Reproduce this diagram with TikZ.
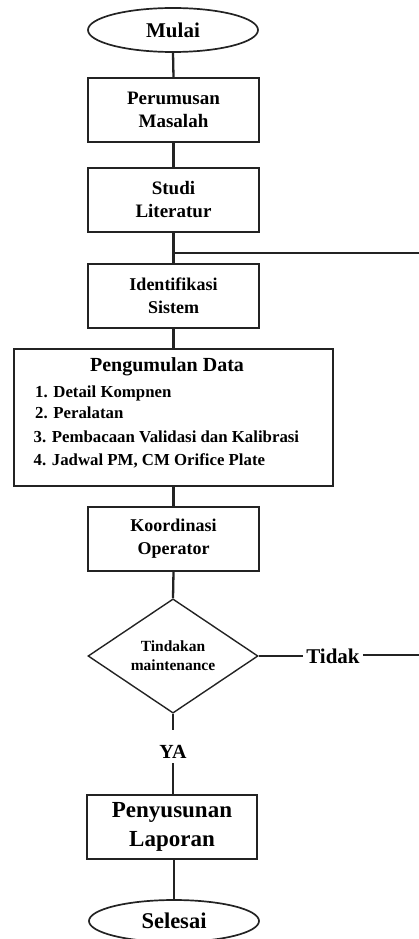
\documentclass[tikz,border=0pt]{standalone}
\usepackage{fontspec}
\setmainfont{Liberation Serif}
\usetikzlibrary{shapes.geometric}
\definecolor{ink}{RGB}{35,35,35}
\tikzset{
  box/.style={draw=ink, line width=1.4pt, rectangle, minimum width=171pt, minimum height=64pt, inner sep=0pt, align=center, font=\bfseries\fontsize{19}{23}\selectfont},
  term/.style={draw=ink, line width=1.7pt, ellipse, minimum width=170pt, minimum height=44pt, inner sep=0pt, font=\bfseries\fontsize{21}{25}\selectfont},
  conn/.style={draw=ink, line width=2.3pt},
  lbl/.style={inner sep=0pt, font=\bfseries\fontsize{21}{25}\selectfont},
  item/.style={anchor=base west, inner sep=0pt, font=\bfseries\fontsize{16.8}{20}\selectfont}
}
\begin{document}
\begin{tikzpicture}[x=1pt,y=-1pt]
\useasboundingbox (0,0) rectangle (419,939);
\node[term] (mulai) at (173,30) {Mulai};
\node[box] (perumusan) at (173.5,110) {Perumusan\\Masalah};
\node[box] (studi) at (173.5,200) {Studi\\Literatur};
\coordinate (j) at (173,253);
\coordinate (rtop) at (419,253);
\node[box, font=\bfseries\fontsize{18}{23}\selectfont] (ident) at (173.5,296) {Identifikasi\\Sistem};
\node[draw=ink, line width=1.4pt, rectangle, minimum width=319pt, minimum height=137pt, inner sep=0pt] (data) at (173.5,417.5) {};
\node[anchor=base, inner sep=0pt, font=\bfseries\fontsize{20}{24}\selectfont] (dtitle) at (167,371) {Pengumulan Data};
\node[item] (d1) at (35,397) {1. Detail Kompnen};
\node[item] (d2) at (35,418) {2. Peralatan};
\node[item] (d3) at (33.5,442) {3. Pembacaan Validasi dan Kalibrasi};
\node[item] (d4) at (33.5,465) {4. Jadwal PM, CM Orifice Plate};
\node[box, font=\bfseries\fontsize{18}{23}\selectfont] (koord) at (173.5,539) {Koordinasi\\Operator};
\node[draw=ink, line width=1.4pt, diamond, minimum width=170pt, minimum height=105pt, inner sep=0pt, align=center, font=\bfseries\fontsize{15.5}{19}\selectfont] (dec) at (173,656) {Tindakan\\maintenance};
\node[lbl, inner xsep=3pt, anchor=base] (tidak) at (333,663) {Tidak};
\coordinate (rmid) at (419,655);
\node[lbl, font=\bfseries\fontsize{20}{24}\selectfont, text height=28pt, text depth=5pt, anchor=base] (ya) at (173,758) {YA};
\node[box, minimum width=170pt, font=\bfseries\fontsize{23}{29}\selectfont] (lapor) at (172,827) {Penyusunan\\Laporan};
\node[term, minimum height=42pt, font=\bfseries\fontsize{22.5}{26}\selectfont] (selesai) at (174,921) {Selesai};

\draw[conn] (mulai.south) -- (perumusan.north);
\draw[conn] (perumusan.south) -- (studi.north);
\draw[conn] (studi.south) -- (ident.north);
\draw[conn] (j) -- (rtop);
\draw[conn] (ident.south) -- (data.north -| ident.south);
\draw[conn] (data.south -| koord.north) -- (koord.north);
\draw[conn] (koord.south) -- (dec.north);
\draw[conn] (dec.east) -- (dec.east -| tidak.west);
\draw[conn] (tidak.east |- rmid) -- (rmid);
\draw[conn] (dec.south) -- (ya.north);
\draw[conn] (ya.south) -- (lapor.north -| ya.south);
\draw[conn] (lapor.south -| selesai.north) -- (selesai.north);
\end{tikzpicture}
\end{document}
